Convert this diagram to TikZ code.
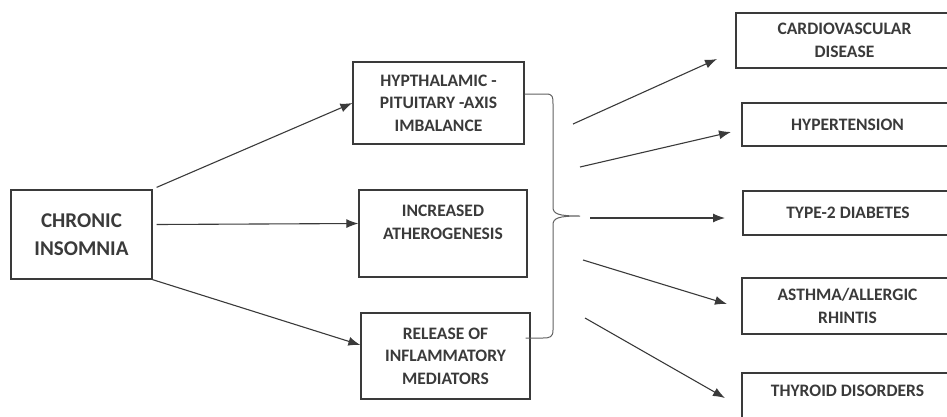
\documentclass[tikz,border=0pt]{standalone}
\usepackage{fontspec}
\setmainfont{Carlito}
\usepackage{xcolor}
\usetikzlibrary{calc, arrows.meta}
\definecolor{ink}{HTML}{3A3A3A}
\def\gap{10pt}
\tikzset{box/.style={draw=ink, line width=1.3pt, inner sep=0pt, align=center, text=ink,
  font=\bfseries\fontsize{17.5}{22.5}\selectfont}}
\tikzset{bigbox/.style={box, font=\bfseries\fontsize{21}{28}\selectfont}}
\tikzset{link/.style={ink, line width=1.1pt, -{Latex[length=12pt,width=9pt]}}}
\tikzset{brace/.style={ink!80, line width=1pt}}

\begin{document}
\begin{tikzpicture}[x=1pt,y=-1pt]
  \useasboundingbox (0,0) rectangle (947,416);
  \clip (0,0) rectangle (947,416);

  % Cause
  \node[bigbox, minimum width=141pt, minimum height=89pt] (chronic) at (81.5,234.5) {CHRONIC\\INSOMNIA};

  % Mechanismes
  \node[box, minimum width=171pt, minimum height=82pt] (hpa) at (438.5,103) {HYPTHALAMIC -\\PITUITARY -AXIS\\IMBALANCE};
  \node[box, minimum width=168pt, minimum height=87pt] (incr) at (443,233.5) {INCREASED\\ATHEROGENESIS\\\mbox{}};
  \node[box, minimum width=169pt, minimum height=86pt] (release) at (445.5,356) {RELEASE OF\\INFLAMMATORY\\MEDIATORS};

  % Maladies
  \node[box, minimum width=217pt, minimum height=55pt] (cardio) at (844.5,40.5) {CARDIOVASCULAR\\DISEASE};
  \node[box, minimum width=211pt, minimum height=43pt] (hyper) at (847.5,124.5) {HYPERTENSION};
  \node[box, minimum width=210pt, minimum height=44pt] (diab) at (848,213) {TYPE-2 DIABETES};
  \node[box, minimum width=211pt, minimum height=56pt] (asthma) at (847.5,306) {ASTHMA/ALLERGIC\\RHINTIS};
  \node[box, minimum width=211pt, minimum height=59pt] (thyroid) at (847.5,402.5) {THYROID DISORDERS\\\mbox{}};

  % Fleches depuis l'insomnie
  \draw[link] ([xshift=4pt,yshift=2pt]chronic.north east) -- (hpa.west);
  \draw[link] ([xshift=4pt,yshift=\gap]chronic.east) -- ([yshift=\gap]incr.west);
  \draw[link] (chronic.south east) -- ([yshift=11pt]release.west);

  % Accolade
  \coordinate (tip) at (580,216);
  \draw[brace] ([yshift=9pt]hpa.east) -- (546,94) .. controls (553,94) and (553,97) .. (553,104)
    -- (553,207) .. controls (553,214) and (558,216) .. (tip)
    .. controls (558,216) and (553,218) .. (553,225) -- (553,330)
    .. controls (553,337) and (550,338) .. (543,338) -- ([xshift=-5pt,yshift=18pt]release.east);

  % Fleches vers les maladies
  \coordinate (fan1) at (573,124);
  \coordinate (fan2) at (580,167);
  \coordinate (fan3) at (590,218);
  \coordinate (fan4) at (583,260);
  \coordinate (fan5) at (585,318);
  \coordinate (end1) at (717,59);
  \coordinate (end2) at (731,132);
  \coordinate (end3) at (725,218);
  \coordinate (end4) at (727,304);
  \coordinate (end5) at (725,398);
  \foreach \i in {1,...,5}
    \draw[link] (fan\i) -- (end\i);
\end{tikzpicture}
\end{document}
